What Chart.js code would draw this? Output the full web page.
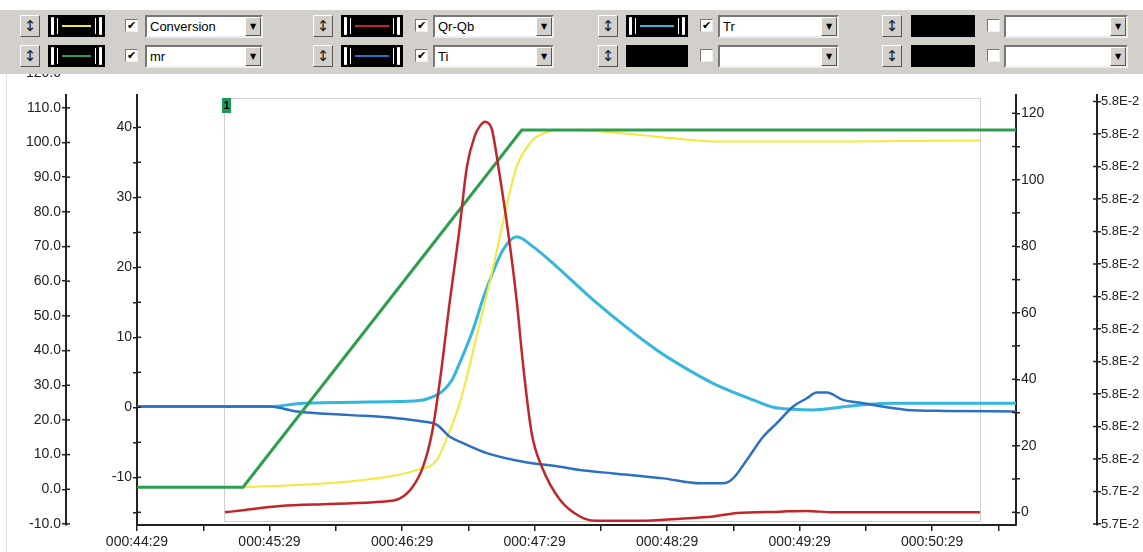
<!DOCTYPE html>
<html>
<head>
<meta charset="utf-8">
<script src="https://cdn.jsdelivr.net/npm/chart.js@4.4.0/dist/chart.umd.min.js"></script>
<style>
  body { margin: 0; background: #fff; font-family: 'Liberation Sans', Arial, sans-serif; }
  #wrap { position: relative; width: 1143px; height: 552px; overflow: hidden; }
  #chart { position: absolute; left: 0; top: 0; }
  #frame { position: absolute; left: 6px; top: 74px; width: 1px; height: 478px; background: #e2e0de; }
  #bar { position: absolute; left: 0; top: 10px; width: 1143px; height: 64px; background: #d3cfca; }
  .btn, .sw, .chk, .dd, .arrow { position: absolute; box-sizing: border-box; }
  .btn { width: 20px; height: 22px; background: #d3cfca; border: 1px solid; border-color: #fff #555 #555 #fff;
         font: 15px 'DejaVu Sans', sans-serif; text-align: center; line-height: 20px; color: #222; }
  .sw { height: 22px; background: #000; }
  .sw i { position: absolute; background: #fff; }
  .chk { width: 13px; height: 13px; background: #fff; border: 1px solid; border-color: #777 #eee #eee #777;
         font: bold 11px 'DejaVu Sans', sans-serif; line-height: 11px; text-align: center; color: #000; }
  .dd { height: 23px; background: #fff; border: 2px solid; border-color: #777 #eee #eee #777;
        font: 13px 'Liberation Sans', Arial, sans-serif; line-height: 19px; padding-left: 3px; color: #000; }
  .arrow { right: 0; top: 0; width: 16px; height: 19px; background: #d3cfca; border: 1px solid;
           border-color: #fff #555 #555 #fff; font: 8px 'DejaVu Sans', sans-serif; line-height: 17px; text-align: center; }
</style>
</head>
<body>
<div id="wrap">
  <canvas id="chart" width="1143" height="552"></canvas>
  <div id="frame"></div>
  <div id="bar"></div>
</div>
<script>
// time axis: seconds after 000:44:29
const START_SEC = 44 * 60 + 29;
const xTicks = [0, 30, 60, 90, 120, 150, 180, 210, 240, 270, 300, 330, 360, 390];

// tick values for the axes
const convTicks = [-10, 0, 10, 20, 30, 40, 50, 60, 70, 80, 90, 100, 110, 120];
const qTicks = [-15, -10, -5, 0, 5, 10, 15, 20, 25, 30, 35, 40];
const tTicks = [0, 10, 20, 30, 40, 50, 60, 70, 80, 90, 100, 110, 120];
const extraTickLabels = ['5.7E-2', '5.7E-2', '5.8E-2', '5.8E-2', '5.8E-2', '5.8E-2', '5.8E-2',
                         '5.8E-2', '5.8E-2', '5.8E-2', '5.8E-2', '5.8E-2', '5.8E-2', '5.8E-2'];

// Conversion (yellow)
const convTime = [48.0, 72.5, 102.3, 117.7, 126.8, 135.8, 139.9, 146.3, 153.8, 161.2, 168.0, 171.9,
                  179.3, 187.0, 190.2, 205.1, 227.8, 242.7, 264.0, 291.2, 322.9, 381.7];
const convValues = [0.6, 1.2, 2.7, 4.1, 5.6, 8.5, 14.2, 25.2, 44.2, 63.9, 83.5, 93.0,
                    100.8, 103.2, 103.6, 103.4, 102.2, 101.2, 100.3, 100.3, 100.3, 100.6];

// mr (green)
const mrTime = [0, 48.0, 110.0, 174.2, 398.0];
const mrValues = [0.6, 0.6, 51.2, 103.6, 103.6];

// Qr-Qb (red)
const qTime = [39.8, 48.0, 64.8, 87.4, 110.0, 119.1, 124.5, 129.5, 133.6, 137.2, 141.7, 145.8, 149.4, 153.1,
               155.3, 157.6, 159.4, 160.8, 163.6, 168.1, 171.9, 174.9, 178.7, 183.3, 191.5, 200.6, 207.4,
               227.8, 245.9, 260.8, 271.6, 291.2, 303.3, 315.2, 381.7];
const qValues = [-15.0, -14.7, -14.1, -13.8, -13.5, -13.0, -11.5, -8.5, -3.6, 3.9, 15.3, 24.9, 34.4, 38.9,
                 40.2, 40.8, 40.5, 39.6, 34.4, 24.9, 15.3, 5.8, -3.7, -8.5, -13.2, -15.6, -16.2,
                 -16.2, -15.9, -15.6, -15.1, -14.9, -14.8, -15.0, -15.0];

// Tr (cyan)
const trTime = [0, 60.2, 75.2, 117.7, 129.5, 132.7, 138.1, 142.6, 145.4, 151.6, 157.6, 165.7, 171.9, 179.3,
                190.0, 206.5, 235.3, 247.2, 260.8, 278.9, 288.0, 297.1, 306.1, 318.3, 327.4, 341.0, 398.0];
const trValues = [31.8, 31.8, 32.8, 33.3, 33.8, 34.4, 36.3, 39.8, 43.8, 53.9, 66.0, 78.9, 82.9, 79.9,
                  73.9, 63.9, 48.8, 43.8, 38.8, 33.8, 31.6, 31.0, 30.8, 31.6, 32.3, 32.8, 32.8];

// Ti (blue)
const tiTime = [0, 60.2, 72.5, 95.1, 117.7, 129.5, 135.8, 141.7, 147.6, 158.4, 174.8, 191.5, 200.6, 215.6,
                238.2, 255.0, 265.4, 269.9, 276.1, 283.5, 289.7, 297.1, 303.3, 307.8, 312.3, 319.7, 328.8,
                339.5, 348.5, 366.6, 398.0];
const tiValues = [31.8, 31.8, 30.3, 29.3, 28.3, 27.3, 26.3, 22.7, 20.8, 17.8, 15.2, 13.7, 12.7, 11.7,
                  10.2, 8.7, 8.7, 10.2, 15.7, 22.7, 26.8, 31.8, 34.3, 36.0, 36.0, 33.8, 32.8,
                  31.6, 30.8, 30.5, 30.3];

// selected region (cursor box "1")
const regionStart = 39.4, regionEnd = 381.7;
const regionTop = 44.2, regionBottom = -16.24;

const pts = (t, v) => t.map((x, i) => ({ x: x, y: v[i] }));
const fmtTime = s => {
  const a = START_SEC + Math.round(s);
  return '000:' + String(Math.floor(a / 60)).padStart(2, '0') + ':' + String(a % 60).padStart(2, '0');
};

// toolbar above the chart
const bar = document.getElementById('bar');
const cols = [
  { btn: 20, sw: 48, sww: 57, chk: 125, dd: 145, ddw: 118 },
  { btn: 313, sw: 341, sww: 62, chk: 415, dd: 433, ddw: 121 },
  { btn: 598, sw: 626, sww: 62, chk: 700, dd: 718, ddw: 121 },
  { btn: 882, sw: 911, sww: 64, chk: 987, dd: 1004, ddw: 124 }
];
const slots = [
  { col: 0, row: 0, color: '#f2e83a', on: true, text: 'Conversion' },
  { col: 0, row: 1, color: '#2e9e4e', on: true, text: 'mr' },
  { col: 1, row: 0, color: '#c0262a', on: true, text: 'Qr-Qb' },
  { col: 1, row: 1, color: '#2d6fc0', on: true, text: 'Ti' },
  { col: 2, row: 0, color: '#35b6dc', on: true, text: 'Tr' },
  { col: 2, row: 1, color: null, on: false, text: '' },
  { col: 3, row: 0, color: null, on: false, text: '' },
  { col: 3, row: 1, color: null, on: false, text: '' }
];
const el = (cls, css, html) => {
  const d = document.createElement('div');
  d.className = cls; d.style.cssText = css; if (html) d.innerHTML = html;
  bar.appendChild(d); return d;
};
slots.forEach(s => {
  const c = cols[s.col];
  const y = s.row === 0 ? 5 : 35;
  el('btn', `left:${c.btn}px;top:${y}px;`, '&#8597;');
  const sw = el('sw', `left:${c.sw}px;top:${y}px;width:${c.sww}px;`);
  if (s.color) {
    const w = c.sww;
    sw.innerHTML =
      `<i style="left:3px;top:2px;width:3px;height:18px;border-radius:1px"></i>` +
      `<i style="left:9px;top:3px;width:1px;height:16px"></i>` +
      `<i style="left:14px;top:10px;width:${w - 28}px;height:2px;background:${s.color}"></i>` +
      `<i style="left:${w - 10}px;top:3px;width:1px;height:16px"></i>` +
      `<i style="left:${w - 6}px;top:2px;width:3px;height:18px;border-radius:1px"></i>`;
  }
  el('chk', `left:${c.chk}px;top:${y + 4}px;`, s.on ? '&#10004;' : '');
  const dd = el('dd', `left:${c.dd}px;top:${y}px;width:${c.ddw}px;`, s.text);
  const a = document.createElement('div');
  a.className = 'arrow'; a.innerHTML = '&#9660;';
  dd.appendChild(a);
});

// plugins
const regionPlugin = {
  id: 'regionPlugin',
  beforeDatasetsDraw(chart) {
    const ctx = chart.ctx, x = chart.scales.x, y = chart.scales.yQ;
    const l = x.getPixelForValue(regionStart), r = x.getPixelForValue(regionEnd);
    const t = y.getPixelForValue(regionTop), b = y.getPixelForValue(regionBottom);
    ctx.save();
    ctx.strokeStyle = '#d6cece';
    ctx.lineWidth = 1;
    ctx.strokeRect(Math.round(l) + 0.5, Math.round(t) + 0.5, Math.round(r - l), Math.round(b - t));
    ctx.restore();
  },
  afterDatasetsDraw(chart) {
    const ctx = chart.ctx, x = chart.scales.x, y = chart.scales.yQ;
    const l = Math.round(x.getPixelForValue(regionStart)), t = Math.round(y.getPixelForValue(regionTop));
    ctx.save();
    ctx.fillStyle = '#1c9a55';
    ctx.fillRect(l - 2, t, 9, 15);
    ctx.fillStyle = '#000';
    ctx.font = 'bold 11px "Liberation Sans", Arial';
    ctx.textAlign = 'center';
    ctx.textBaseline = 'middle';
    ctx.fillText('1', l + 2.5, t + 8);
    ctx.restore();
  }
};

const crossTicks = {
  id: 'crossTicks',
  afterDraw(chart) {
    const ctx = chart.ctx;
    ctx.save();
    ctx.strokeStyle = '#222';
    ctx.lineWidth = 1.5;
    ['yConv', 'yQ', 'yT', 'yX'].forEach(id => {
      const s = chart.scales[id];
      const left = s.position === 'left';
      const edge = left ? s.right : s.left;
      s.ticks.forEach(t => {
        const py = s.getPixelForValue(t.value);
        if (py < chart.chartArea.top - 2) return;
        ctx.beginPath();
        ctx.moveTo(edge, py);
        ctx.lineTo(edge + (left ? 4 : -4), py);
        ctx.stroke();
      });
    });
    ctx.restore();
  }
};

Chart.defaults.font.family = "'Liberation Sans', Arial, sans-serif";
Chart.defaults.font.size = 14;
Chart.defaults.color = '#222';

const axisGrid = { drawOnChartArea: false, tickLength: 4, color: '#222', lineWidth: 1.5 };
const axisBorder = { color: '#222', width: 2 };

new Chart(document.getElementById('chart'), {
  type: 'line',
  data: {
    datasets: [
      { label: 'Qr-Qb', data: pts(qTime, qValues), yAxisID: 'yQ', borderColor: '#c0262a', borderWidth: 2.5,
        cubicInterpolationMode: 'monotone' },
      { label: 'mr', data: pts(mrTime, mrValues), yAxisID: 'yConv', borderColor: '#2e9e4e', borderWidth: 3 },
      { label: 'Ti', data: pts(tiTime, tiValues), yAxisID: 'yT', borderColor: '#2d6fc0', borderWidth: 2.5,
        cubicInterpolationMode: 'monotone' },
      { label: 'Conversion', data: pts(convTime, convValues), yAxisID: 'yConv', borderColor: '#f2e83a', borderWidth: 2,
        cubicInterpolationMode: 'monotone' },
      { label: 'Tr', data: pts(trTime, trValues), yAxisID: 'yT', borderColor: '#35b6dc', borderWidth: 3,
        cubicInterpolationMode: 'monotone' }
    ]
  },
  options: {
    responsive: false,
    animation: false,
    devicePixelRatio: 1,
    layout: { padding: { top: 95, left: 0, right: 0, bottom: 0 } },
    elements: { point: { radius: 0 } },
    plugins: { legend: { display: false }, tooltip: { enabled: false } },
    scales: {
      x: {
        type: 'linear', position: 'bottom', min: 0, max: 398,
        afterBuildTicks: s => { s.ticks = xTicks.map(v => ({ value: v })); },
        afterFit: s => { s.height = 27; },
        ticks: { autoSkip: false, maxRotation: 0, padding: 3,
                 callback: v => (v % 60 === 0 ? fmtTime(v) : '') },
        grid: { drawOnChartArea: false, tickLength: 6, color: '#222', lineWidth: 1.5 },
        border: axisBorder
      },
      yConv: {
        type: 'linear', position: 'left', weight: 2, min: -10.3, max: 113.7,
        afterBuildTicks: s => { s.ticks = convTicks.map(v => ({ value: v })); },
        afterFit: s => { s.width = 66; },
        ticks: { autoSkip: false, padding: 1, callback: v => v.toFixed(1) },
        grid: axisGrid, border: axisBorder
      },
      yQ: {
        type: 'linear', position: 'left', weight: 1, min: -16.81, max: 44.61,
        afterBuildTicks: s => { s.ticks = qTicks.map(v => ({ value: v })); },
        afterFit: s => { s.width = 71; },
        ticks: { autoSkip: false, padding: 1, callback: v => (v % 10 === 0 ? String(v) : '') },
        grid: axisGrid, border: axisBorder
      },
      yT: {
        type: 'linear', position: 'right', weight: 1, min: -3.82, max: 125.5,
        afterBuildTicks: s => { s.ticks = tTicks.map(v => ({ value: v })); },
        afterFit: s => { s.width = 81; },
        ticks: { autoSkip: false, padding: 1, callback: v => (v % 20 === 0 ? String(v) : '') },
        grid: axisGrid, border: axisBorder
      },
      yX: {
        type: 'linear', position: 'right', weight: 2, min: -0.03, max: 13.2,
        afterBuildTicks: s => { s.ticks = extraTickLabels.map((l, i) => ({ value: i })); },
        afterFit: s => { s.width = 46; },
        ticks: { autoSkip: false, padding: 0, font: { size: 13 }, callback: v => extraTickLabels[v] },
        grid: axisGrid, border: axisBorder
      }
    }
  },
  plugins: [regionPlugin, crossTicks]
});
</script>
</body>
</html>
